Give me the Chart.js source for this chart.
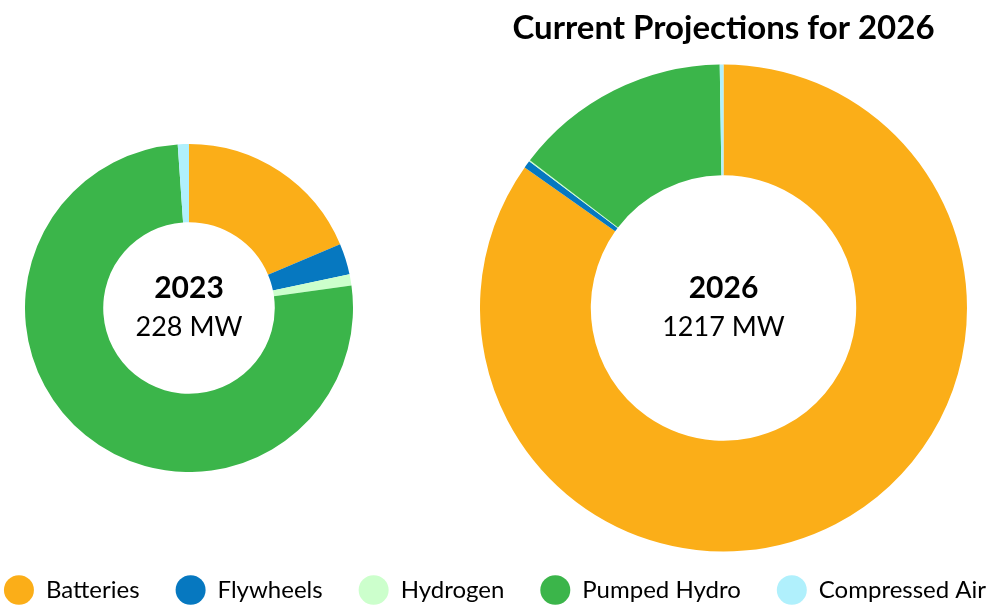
<!DOCTYPE html>
<html>
<head>
<meta charset="utf-8">
<script src="https://cdn.jsdelivr.net/npm/chart.js@4"></script>
<style>
    html, body { margin: 0; padding: 0; background: #fff; }
    body { width: 990px; height: 608px; position: relative; overflow: hidden; }
    .box { position: absolute; }
</style>
</head>
<body>
<div class="box" style="left:25px; top:144px; width:328px; height:328px;"><canvas id="chart2023"></canvas></div>
<div class="box" style="left:480px; top:0px; width:487px; height:552px;"><canvas id="chart2026"></canvas></div>
<div class="box" style="left:-60px; top:542px; width:1110px; height:220px;"><canvas id="legend"></canvas></div>
<script>
// Saqlash turlari
const labels = ['Batteries', 'Flywheels', 'Hydrogen', 'Pumped Hydro', 'Compressed Air'];
const colors = ['#fbae18', '#0678c0', '#ccffcc', '#3bb54a', '#b0f0fc'];

// MW qiymatlari (rasmdan taxminan o'qilgan)
const mw2023 = [42.5, 7, 2.5, 173.5, 2.5];
const mw2026 = [1032, 6, 1, 175, 3];

const totals = { '2023': '228 MW', '2026': '1217 MW' };
const titleText = 'Current Projections for 2026';

const FONT = "Lato, 'Noto Sans', sans-serif";

Chart.defaults.font.family = FONT;
Chart.defaults.color = '#000';
Chart.defaults.animation = false;

/** Doughnut markazidagi yozuv */
const centerText = {
    id: 'centerText',
    afterDraw(chart, args, opts) {
        const arc = chart.getDatasetMeta(0).data[0];
        if (!arc) return;
        const ctx = chart.ctx;
        ctx.save();
        ctx.fillStyle = '#000';
        ctx.textAlign = 'center';
        ctx.textBaseline = 'alphabetic';
        ctx.font = `bold 30px ${FONT}`;
        ctx.fillText(opts.year, arc.x, arc.y - 10);
        ctx.font = `27px ${FONT}`;
        ctx.fillText(opts.total, arc.x, arc.y + 28);
        ctx.restore();
    }
};

function makeDoughnut(canvasId, data, year, cutout, title) {
    return new Chart(document.getElementById(canvasId), {
        type: 'doughnut',
        data: {
            labels: labels,
            datasets: [{
                data: data,
                backgroundColor: colors,
                borderWidth: 0,
                hoverOffset: 0,
            }]
        },
        options: {
            responsive: true,
            maintainAspectRatio: false,
            events: [],
            cutout: cutout,
            layout: { padding: 0 },
            plugins: {
                legend: { display: false },
                tooltip: { enabled: false },
                title: title ? {
                    display: true,
                    text: title,
                    font: { size: 33, weight: 'bold' },
                    color: '#000',
                    padding: { top: 9, bottom: 15.4 },
                } : { display: false },
                centerText: { year: year, total: totals[year] },
            },
        },
        plugins: [centerText],
    });
}

makeDoughnut('chart2023', mw2023, '2023', '52.3%');
makeDoughnut('chart2026', mw2026, '2026', '54.5%', titleText);

// Pastdagi umumiy legend (doughnut o'zi ekrandan pastda qoladi)
new Chart(document.getElementById('legend'), {
    type: 'doughnut',
    data: {
        labels: labels,
        datasets: [{ data: mw2023, backgroundColor: colors, borderWidth: 0 }]
    },
    options: {
        responsive: true,
        maintainAspectRatio: false,
        events: [],
        plugins: {
            tooltip: { enabled: false },
            legend: {
                display: true,
                position: 'top',
                labels: {
                    usePointStyle: true,
                    pointStyle: 'circle',
                    pointStyleWidth: 30,
                    boxHeight: 21,
                    padding: 36,
                    color: '#000',
                    font: { size: 24 },
                },
            },
        },
    },
});
</script>
</body>
</html>
